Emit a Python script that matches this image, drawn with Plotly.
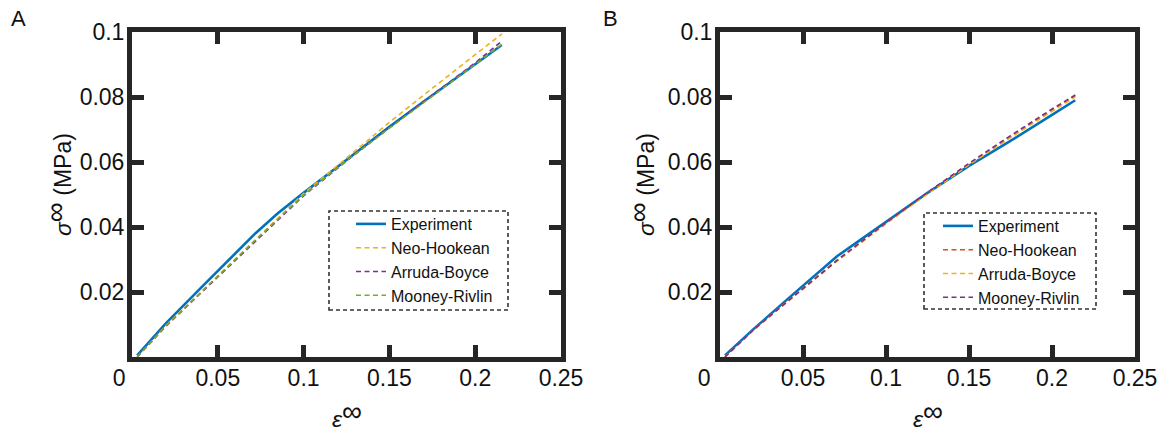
import plotly.graph_objects as go

# ---------------- data ----------------
# Panel A
a_exp_x = [0.003, 0.02, 0.04, 0.055, 0.072, 0.085, 0.1, 0.12, 0.14, 0.15, 0.17, 0.19, 0.2, 0.2155]
a_exp_y = [0.0005, 0.0105, 0.0212, 0.0292, 0.0381, 0.0442, 0.0505, 0.0586, 0.0667, 0.0708, 0.0786, 0.0862, 0.0900, 0.0960]
a_mod_x = [0.003, 0.02, 0.035, 0.05, 0.072, 0.1, 0.125, 0.15, 0.175, 0.2, 0.2155]
a_neo_y = [0.0, 0.0098, 0.0174, 0.0250, 0.0363, 0.0503, 0.0612, 0.0722, 0.0827, 0.0931, 0.0994]
a_ab_y = [0.0, 0.0096, 0.0171, 0.0246, 0.0358, 0.0496, 0.0603, 0.0706, 0.0806, 0.0905, 0.0972]
a_mr_y = [0.0, 0.0097, 0.0172, 0.0248, 0.0360, 0.0498, 0.0604, 0.0704, 0.0802, 0.0899, 0.0962]

# Panel B
b_exp_x = [0.003, 0.02, 0.04, 0.055, 0.0705, 0.085, 0.1, 0.125, 0.15, 0.175, 0.2, 0.214]
b_exp_y = [0.0005, 0.0085, 0.0175, 0.0240, 0.0310, 0.0362, 0.0415, 0.0505, 0.0588, 0.0665, 0.0745, 0.0790]
b_mod_x = [0.003, 0.02, 0.035, 0.05, 0.0705, 0.1, 0.125, 0.15, 0.175, 0.2, 0.214]
b_neo_y = [0.0, 0.0083, 0.0148, 0.0212, 0.0298, 0.0413, 0.0505, 0.0594, 0.0678, 0.0760, 0.0804]
b_ab_y = [0.0, 0.0082, 0.0146, 0.0210, 0.0295, 0.0410, 0.0502, 0.0591, 0.0675, 0.0756, 0.0800]
b_mr_y = [0.0, 0.0083, 0.0147, 0.0211, 0.0297, 0.0413, 0.0506, 0.0596, 0.0681, 0.0763, 0.0806]

series_names = ["Experiment", "Neo-Hookean", "Arruda-Boyce", "Mooney-Rivlin"]
x_ticks = [0, 0.05, 0.1, 0.15, 0.2, 0.25]
x_ticktext_a = ["0\u00a0\u00a0\u00a0\u00a0", "0.05", "0.1", "0.15", "0.2", "0.25"]
x_ticktext_b = ["0\u00a0\u00a0\u00a0\u00a0\u00a0", "0.05", "0.1", "0.15", "0.2", "0.25"]
y_ticks = [0.02, 0.04, 0.06, 0.08, 0.1]
y_ticktext = ["0.02", "0.04", "0.06", "0.08", "0.1"]

# ---------------- styling ----------------
W, H = 1172, 434
FONT = "Liberation Sans, Arial, sans-serif"
AX = "#262626"
TXT = "#111111"
BLUE = "#0072BD"
ORANGE = "#D95319"
YELLOW = "#EDB120"
PURPLE = "#7E2F8E"
GREEN = "#77AC30"
DASH = "5px,3.5px"

def px_x(p):
    return p / W

def px_y(p):
    return 1 - p / H

fig = go.Figure()

def add_panel(xs_exp, ys_exp, xs_mod, mods, colors, xa, ya, legend):
    fig.add_trace(go.Scatter(x=xs_exp, y=ys_exp, mode="lines", name=series_names[0],
                             line=dict(color=BLUE, width=2.6), xaxis=xa, yaxis=ya, legend=legend))
    for name, ys, c in zip(series_names[1:], mods, colors):
        fig.add_trace(go.Scatter(x=xs_mod, y=ys, mode="lines", name=name,
                                 line=dict(color=c, width=1.6, dash=DASH),
                                 xaxis=xa, yaxis=ya, legend=legend))

add_panel(a_exp_x, a_exp_y, a_mod_x, [a_neo_y, a_ab_y, a_mr_y], [YELLOW, PURPLE, GREEN], "x", "y", "legend")
add_panel(b_exp_x, b_exp_y, b_mod_x, [b_neo_y, b_ab_y, b_mr_y], [ORANGE, YELLOW, PURPLE], "x2", "y2", "legend2")

ydom = [px_y(357), px_y(32)]

def xaxis(dom, ticktext, anchor):
    return dict(domain=dom, range=[0, 0.25], tickvals=x_ticks, ticktext=ticktext, anchor=anchor,
                showline=True, linewidth=5, linecolor=AX, mirror="ticks",
                ticks="inside", ticklen=12, tickwidth=4.5, tickcolor=AX,
                showgrid=False, zeroline=False, automargin=False, ticklabelstandoff=-4,
                tickfont=dict(family=FONT, size=23, color=TXT))

def yaxis(dom, anchor):
    return dict(domain=dom, range=[0, 0.1], tickvals=y_ticks, ticktext=y_ticktext, anchor=anchor,
                showline=True, linewidth=5, linecolor=AX, mirror="ticks",
                ticks="inside", ticklen=12, tickwidth=4.5, tickcolor=AX,
                showgrid=False, zeroline=False, automargin=False, ticklabelstandoff=-2,
                tickfont=dict(family=FONT, size=23, color=TXT))

leg_common = dict(xanchor="left", yanchor="top", bgcolor="rgba(0,0,0,0)", borderwidth=0,
                  font=dict(family=FONT, size=16, color=TXT), tracegroupgap=0,
                  itemwidth=30)

INF = "<span style='font-size:28px;baseline-shift:22%'>∞</span>"
ytitle = "<i>σ</i>" + INF + "\u00a0(MPa)"
xtitle = "<i>ε</i>" + INF

def ann(text, x, y, size=23, angle=0):
    return dict(text=text, x=px_x(x), y=px_y(y), xref="paper", yref="paper", showarrow=False,
                xanchor="center", yanchor="middle", textangle=angle,
                font=dict(family=FONT, size=size, color=TXT))

annotations = [
    ann("A", 18, 18, size=22),
    ann("B", 610, 18, size=22),
    ann(ytitle, 58, 185, angle=-90),
    ann(ytitle, 641, 185, angle=-90),
    ann(xtitle, 347, 414),
    ann(xtitle, 928, 414),
]

shapes = [
    dict(type="rect", xref="paper", yref="paper", x0=px_x(329), x1=px_x(508), y0=px_y(310), y1=px_y(211),
         line=dict(color="#333333", width=1.6, dash="4px,3px"), fillcolor="white", layer="below"),
    dict(type="rect", xref="paper", yref="paper", x0=px_x(924), x1=px_x(1096), y0=px_y(309), y1=px_y(213),
         line=dict(color="#333333", width=1.6, dash="4px,3px"), fillcolor="white", layer="below"),
]

fig.update_layout(
    width=W, height=H,
    margin=dict(l=0, r=0, t=0, b=0, pad=0, autoexpand=False),
    paper_bgcolor="white", plot_bgcolor="white",
    showlegend=True,
    xaxis=xaxis([px_x(132), px_x(561)], x_ticktext_a, "y"),
    yaxis=yaxis(ydom, "x"),
    xaxis2=xaxis([px_x(720), px_x(1135)], x_ticktext_b, "y2"),
    yaxis2=yaxis(ydom, "x2"),
    legend=dict(x=px_x(351), y=px_y(207), **leg_common),
    legend2=dict(x=px_x(938), y=px_y(209), **leg_common),
    annotations=annotations,
    shapes=shapes,
    font=dict(family=FONT),
)

fig.write_html("out.html")
